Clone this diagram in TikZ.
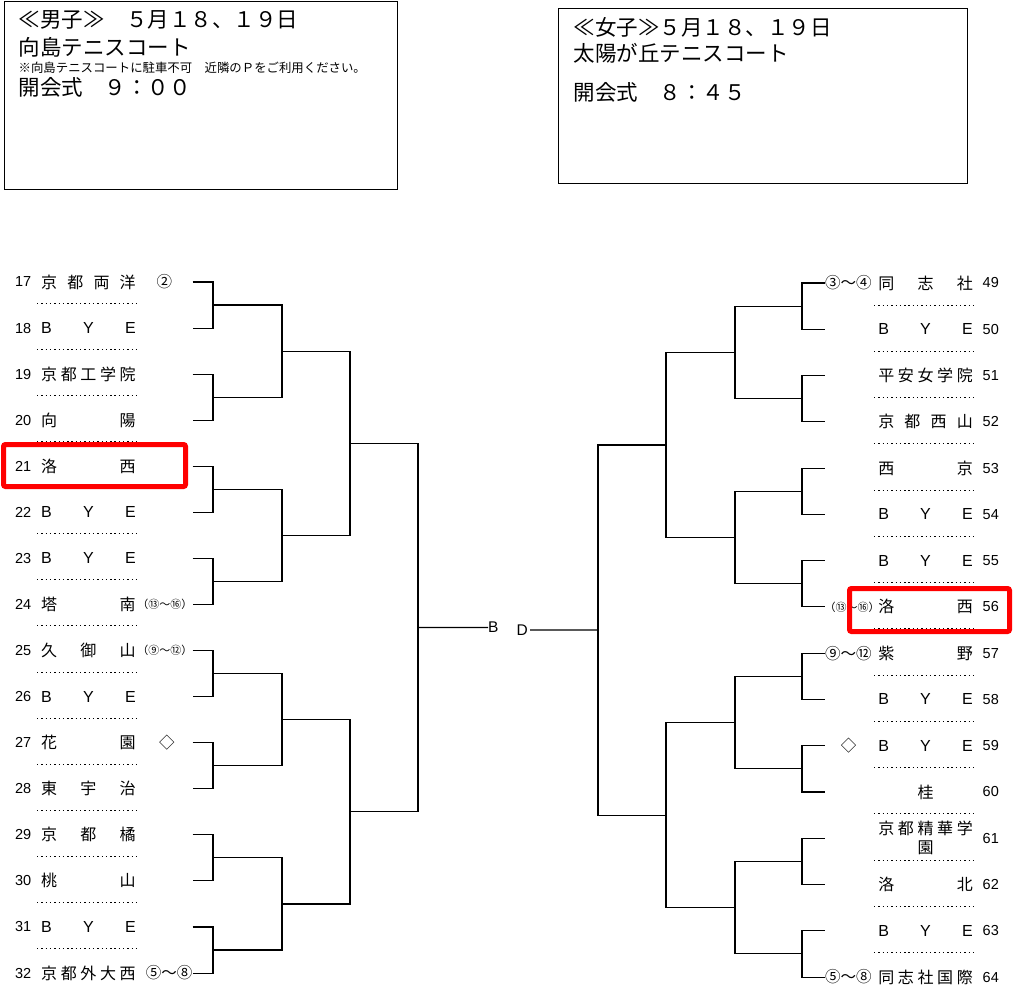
\documentclass[tikz,border=0pt]{standalone}
\usepackage{fontspec}
\setmainfont{Liberation Sans}
\newfontfamily\jpfont{Noto Sans CJK JP}
\usetikzlibrary{
	calc,
	positioning
}

\begin{document}
\begin{tikzpicture}[x=1pt, y=-1pt,
	team/.style={anchor=west, inner sep=0pt, font=\jpfont\fontsize{16}{19}\selectfont},
	seedno/.style={inner sep=0pt, font=\fontsize{14.5}{17}\selectfont},
	seedmark/.style={inner sep=0pt, font=\jpfont\fontsize{15.5}{18}\selectfont},
	seedsmall/.style={inner sep=0pt, font=\jpfont\fontsize{11}{13}\selectfont},
	dotrow/.style={line width=1pt, dash pattern=on 1.4pt off 2.9pt},
	bracket/.style={line width=1.1pt},
	info/.style={anchor=west, inner sep=0pt, font=\jpfont\fontsize{21.5}{24}\selectfont},
	smallnote/.style={anchor=west, inner sep=0pt, font=\jpfont\fontsize{12.4}{14}\selectfont},
	hilite/.style={draw=red, line width=5pt, rounded corners=2pt},
	centre/.style={anchor=west, inner sep=0pt, font=\fontsize{15.5}{18}\selectfont}]

	\useasboundingbox (0,0) rectangle (1013,994);

	% info boxes
	\draw[line width=1pt] (4,1) rectangle (397,189);
	\node[info] (mhead) at (18.5,20) {≪男子≫　５月１８、１９日};
	\node[info] (mcourt) at (18.5,47) {向島テニスコート};
	\node[smallnote] (mnote) at (18.5,68) {※向島テニスコートに駐車不可　近隣のＰをご利用ください。};
	\node[info] (mopen) at (18.5,87) {開会式　９：００};

	\draw[line width=1pt] (558,8) rectangle (967.5,183);
	\node[info] (fhead) at (573.5,27) {≪女子≫５月１８、１９日};
	\node[info] (fcourt) at (573.5,53) {太陽が丘テニスコート};
	\node[info] (fopen) at (573.5,92) {開会式　８：４５};

	% left half: 17 - 32
	\foreach \n [count=\k from 0] in {17,...,32} {
		\pgfmathsetmacro\yy{282+46.07*\k}
		\node[seedno, anchor=east] (n\n) at (31.5,\yy) {\n};
		\coordinate (l\n) at (192.5,\yy);
	}
	\foreach \k in {0,...,14}
		\draw[dotrow] (37,{282+46.07*\k+21.5}) -- (140,{282+46.07*\k+21.5});

	\node[team, right=9.5pt of n17] (t17) {\makebox[94.5pt][s]{京\hfil 都\hfil 両\hfil 洋}};
	\node[team, right=9.5pt of n18] (t18) {\makebox[94.5pt][s]{\normalfont B\hfil Y\hfil E}};
	\node[team, right=9.5pt of n19] (t19) {\makebox[94.5pt][s]{京\hfil 都\hfil 工\hfil 学\hfil 院}};
	\node[team, right=9.5pt of n20] (t20) {\makebox[94.5pt][s]{向\hfil 陽}};
	\node[team, right=9.5pt of n21] (t21) {\makebox[94.5pt][s]{洛\hfil 西}};
	\node[team, right=9.5pt of n22] (t22) {\makebox[94.5pt][s]{\normalfont B\hfil Y\hfil E}};
	\node[team, right=9.5pt of n23] (t23) {\makebox[94.5pt][s]{\normalfont B\hfil Y\hfil E}};
	\node[team, right=9.5pt of n24] (t24) {\makebox[94.5pt][s]{塔\hfil 南}};
	\node[team, right=9.5pt of n25] (t25) {\makebox[94.5pt][s]{久\hfil 御\hfil 山}};
	\node[team, right=9.5pt of n26] (t26) {\makebox[94.5pt][s]{\normalfont B\hfil Y\hfil E}};
	\node[team, right=9.5pt of n27] (t27) {\makebox[94.5pt][s]{花\hfil 園}};
	\node[team, right=9.5pt of n28] (t28) {\makebox[94.5pt][s]{東\hfil 宇\hfil 治}};
	\node[team, right=9.5pt of n29] (t29) {\makebox[94.5pt][s]{京\hfil 都\hfil 橘}};
	\node[team, right=9.5pt of n30] (t30) {\makebox[94.5pt][s]{桃\hfil 山}};
	\node[team, right=9.5pt of n31] (t31) {\makebox[94.5pt][s]{\normalfont B\hfil Y\hfil E}};
	\node[team, right=9.5pt of n32] (t32) {\makebox[94.5pt][s]{京\hfil 都\hfil 外\hfil 大\hfil 西}};

	\node[seedmark, right=20.5pt of t17] (s17) {②};
	\node[seedsmall, left=0pt of l24] (s24) {（⑬～⑯）};
	\node[seedsmall, left=0pt of l25] (s25) {（⑨～⑫）};
	\node[seedmark, right=23pt of t27] (s27) {◇};
	\node[seedmark, left=0pt of l32] (s32) {⑤～⑧};

	% right half: 49 - 64
	\foreach \n [count=\k from 0] in {49,...,64} {
		\pgfmathsetmacro\yy{283+46.27*\k}
		\node[seedno, anchor=west] (n\n) at (982.5,\yy) {\n};
		\coordinate (r\n) at (824.5,\yy);
	}
	\foreach \k in {0,...,14}
		\draw[dotrow] (874,{283+46.27*\k+22}) -- (976,{283+46.27*\k+22});

	\node[team, left=9.5pt of n49] (t49) {\makebox[94.5pt][s]{同\hfil 志\hfil 社}};
	\node[team, left=9.5pt of n50] (t50) {\makebox[94.5pt][s]{\normalfont B\hfil Y\hfil E}};
	\node[team, left=9.5pt of n51] (t51) {\makebox[94.5pt][s]{平\hfil 安\hfil 女\hfil 学\hfil 院}};
	\node[team, left=9.5pt of n52] (t52) {\makebox[94.5pt][s]{京\hfil 都\hfil 西\hfil 山}};
	\node[team, left=9.5pt of n53] (t53) {\makebox[94.5pt][s]{西\hfil 京}};
	\node[team, left=9.5pt of n54] (t54) {\makebox[94.5pt][s]{\normalfont B\hfil Y\hfil E}};
	\node[team, left=9.5pt of n55] (t55) {\makebox[94.5pt][s]{\normalfont B\hfil Y\hfil E}};
	\node[team, left=9.5pt of n56] (t56) {\makebox[94.5pt][s]{洛\hfil 西}};
	\node[team, left=9.5pt of n57] (t57) {\makebox[94.5pt][s]{紫\hfil 野}};
	\node[team, left=9.5pt of n58] (t58) {\makebox[94.5pt][s]{\normalfont B\hfil Y\hfil E}};
	\node[team, left=9.5pt of n59] (t59) {\makebox[94.5pt][s]{\normalfont B\hfil Y\hfil E}};
	\node[team, left=9.5pt of n60] (t60) {\makebox[94.5pt][c]{桂}};
	\node[team, left=9.5pt of n61, align=center, text width=94.5pt] (t61)
		{\makebox[94.5pt][s]{京\hfil 都\hfil 精\hfil 華\hfil 学}\\園};
	\node[team, left=9.5pt of n62] (t62) {\makebox[94.5pt][s]{洛\hfil 北}};
	\node[team, left=9.5pt of n63] (t63) {\makebox[94.5pt][s]{\normalfont B\hfil Y\hfil E}};
	\node[team, left=9.5pt of n64] (t64) {\makebox[94.5pt][s]{同\hfil 志\hfil 社\hfil 国\hfil 際}};

	\node[seedmark, right=0.5pt of r49] (s49) {③～④};
	\node[seedsmall, right=0pt of r56] (s56) {（⑬～⑯）};
	\node[seedmark, right=0.5pt of r57] (s57) {⑨～⑫};
	\node[seedmark, left=21.5pt of t59] (s59) {◇};
	\node[seedmark, right=0.5pt of r64] (s64) {⑤～⑧};

	% brackets
	\foreach \p/\q/\x/\w in {l17/l18/213/a1, l19/l20/213/a2, l21/l22/213/a3, l23/l24/213/a4,
			l25/l26/213/a5, l27/l28/213/a6, l29/l30/213/a7, l31/l32/213/a8,
			a1/a2/282/b1, a3/a4/282/b2, a5/a6/282/b3, a7/a8/282/b4,
			b1/b2/350/c1, b3/b4/350/c2, c1/c2/418/d1,
			r49/r50/802/e1, r51/r52/802/e2, r53/r54/802/e3, r55/r56/802/e4,
			r57/r58/802/e5, r59/r60/802/e6, r61/r62/802/e7, r63/r64/802/e8,
			e1/e2/735/f1, e3/e4/735/f2, e5/e6/735/f3, e7/e8/735/f4,
			f1/f2/666/g1, f3/f4/666/g2, g1/g2/598/h1} {
		\coordinate (mid) at ($(\p)!0.5!(\q)$);
		\coordinate (jx) at (\x,0);
		\coordinate (\w) at (mid -| jx);
		\draw[bracket] (\p) -| (\w) |- (\q);
	}

	\node[centre] (bnode) at (488,627.5) {B};
	\node[centre] (dnode) at (516.5,630) {D};
	\draw[bracket] (d1) -- (bnode.west);
	\draw[bracket] ([xshift=2pt]dnode.east) -- (h1);

	% highlighted entries
	\draw[hilite] (3.5,444.5) rectangle (185.5,486.5);
	\draw[hilite] (849.5,588.5) rectangle (1009.5,631.5);

\end{tikzpicture}
\end{document}
